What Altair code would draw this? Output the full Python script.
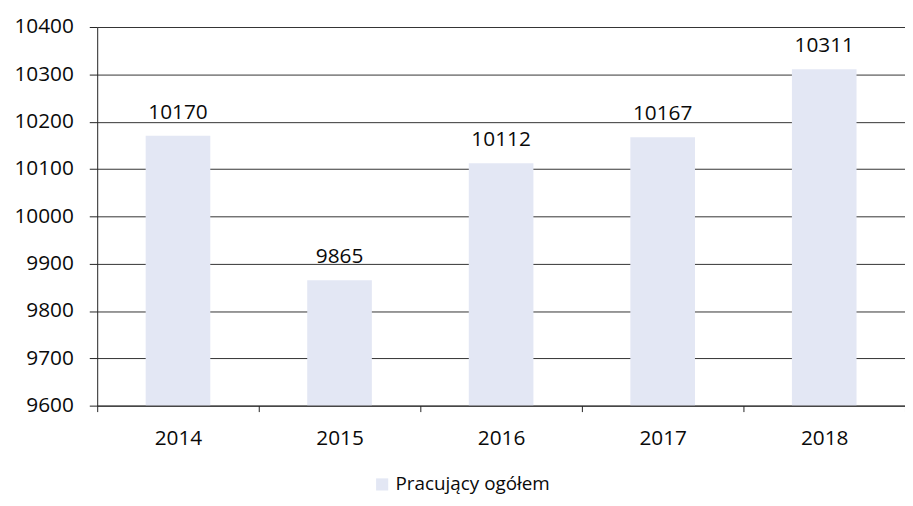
import altair as alt
import pandas as pd

years = ["2014", "2015", "2016", "2017", "2018"]
values = [10170, 9865, 10112, 10167, 10311]
series = ["Pracujący ogółem"] * 5
y_ticks = [9600, 9700, 9800, 9900, 10000, 10100, 10200, 10300, 10400]

df = pd.DataFrame({"rok": years, "wartosc": values, "seria": series})

FONT = "Open Sans"
BAR = "#e3e7f4"
INK = "#0a0a0a"

x = alt.X(
    "rok:N",
    title=None,
    sort=years,
    scale=alt.Scale(paddingInner=0, paddingOuter=0),
    axis=alt.Axis(
        labelAngle=0,
        labelFontSize=21,
        labelFont=FONT,
        labelColor=INK,
        labelPadding=16,
        domainColor="#222",
        tickColor="#222",
        tickSize=6,
        tickBand="extent",
        grid=False,
        zindex=1,
    ),
)

bars = alt.Chart(df).mark_bar(color=BAR, clip=True, width=alt.RelativeBandSize(0.4)).encode(
    x=x,
    y=alt.Y(
        "wartosc:Q",
        title=None,
        scale=alt.Scale(domain=[9600, 10400], nice=False, zero=False),
        axis=alt.Axis(
            values=y_ticks,
            format="d",
            labelFontSize=21,
            labelFont=FONT,
            labelColor=INK,
            labelPadding=16,
            tickSize=8,
            tickColor="#222",
            domainColor="#222",
            gridColor="#333",
            gridWidth=1,
        ),
    ),
    color=alt.Color(
        "seria:N",
        scale=alt.Scale(range=[BAR]),
        legend=alt.Legend(
            title=None,
            orient="none",
            legendX=278,
            legendY=452,
            symbolType="square",
            symbolSize=150,
            symbolStrokeWidth=0,
            labelFontSize=19,
            labelFont=FONT,
            labelColor=INK,
        ),
    ),
)

labels = alt.Chart(df).mark_text(
    baseline="alphabetic", dy=-17, fontSize=21, font=FONT, color=INK
).encode(
    x=alt.X("rok:N", sort=years),
    y="wartosc:Q",
    text="wartosc:Q",
)

chart = (
    alt.layer(bars, labels)
    .properties(
        width=815,
        height=382,
        autosize=alt.AutoSizeParams(type="none"),
        padding={"left": 90, "top": 17, "right": 0, "bottom": 91},
        background="white",
    )
    .configure_view(stroke=None)
)

chart.save("out.html", embed_options={"renderer": "svg", "actions": False})
